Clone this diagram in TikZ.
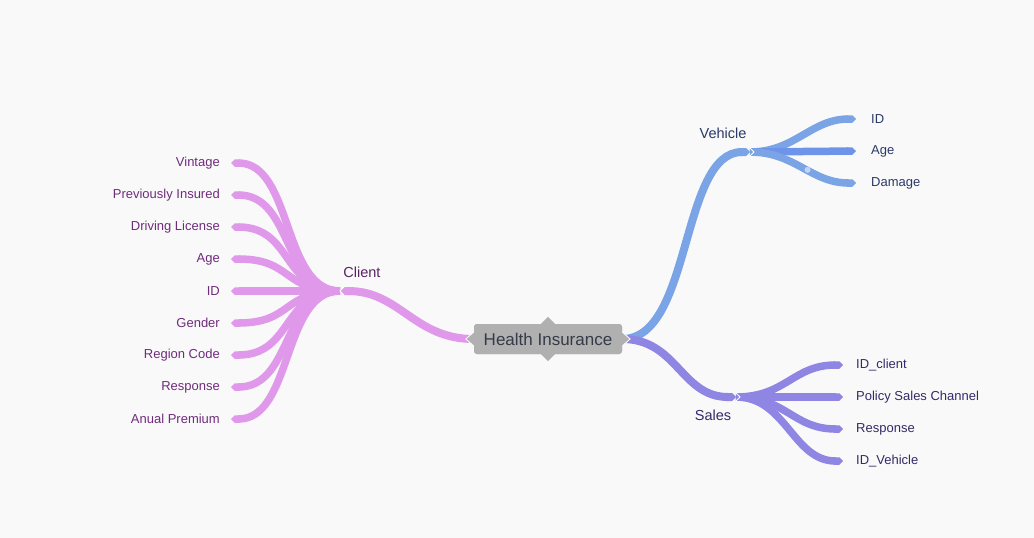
\documentclass[tikz,border=0pt]{standalone}
\usepackage{fontspec}
\setmainfont{Liberation Sans}
\usetikzlibrary{arrows.meta,positioning}
\definecolor{bgGray}{RGB}{249,249,249}
\definecolor{hubGray}{RGB}{176,176,176}
\definecolor{hubText}{RGB}{52,60,72}
\definecolor{clientPink}{RGB}{224,152,234}
\definecolor{clientText}{RGB}{112,44,124}
\definecolor{vehBlue}{RGB}{122,164,230}
\definecolor{vehText}{RGB}{42,58,104}
\definecolor{salesPurple}{RGB}{143,134,228}
\definecolor{salesText}{RGB}{52,42,104}

\begin{document}
\begin{tikzpicture}[x=1pt,y=-1pt,
    hubbox/.style={fill=hubGray, rounded corners=3pt, minimum width=148pt, minimum height=30pt,
      inner sep=0pt, text=hubText, font=\fontsize{17}{19}\selectfont},
    hubtip/.style={fill=hubGray, draw=white, line width=0.8pt},
    branch/.style={line width=8pt, -{Triangle Cap}},
    twig/.style={line width=7.5pt, -{Triangle Cap}},
    notch/.style={draw=white, line width=1pt},
    sublabel/.style={inner sep=0pt, font=\fontsize{14.5}{16}\selectfont},
    leafL/.style={anchor=east, inner sep=0pt, text=clientText, font=\fontsize{13}{15}\selectfont},
    leafR/.style={anchor=west, inner sep=0pt, font=\fontsize{13}{15}\selectfont},
    dotmark/.style={circle, fill=white, fill opacity=0.55, inner sep=0pt, minimum size=6pt}]
  \useasboundingbox[fill=bgGray] (0,0) rectangle (1034,538);

  % centre
  \node[hubbox] (hi) at (548,339) {Health Insurance};
  \coordinate (client) at (340,291);
  \coordinate (veh) at (750,152);
  \coordinate (sales) at (736,397);

  % client side
  \foreach \lab [count=\i] in {Vintage, Previously Insured, Driving License, Age, ID, Gender, Region Code, Response, Anual Premium} {
    \node[leafL] (cl\i) at (220,131+32*\i) {\lab};
    \coordinate (ce\i) at (231,131+32*\i);
    \draw[twig, clientPink] (client) .. controls +(-58,0) and +(62,0) .. (ce\i);
  }
  \draw[branch, clientPink] (hi.west) .. controls +(-60,0) and +(60,0) .. (client);
  \draw[notch] (client) ++(4,-4) -- ++(-4,4) -- ++(4,4);
  \node[sublabel, text=clientText!80!black] (clientlbl) at (362,272) {Client};

  % vehicle side
  \foreach \lab [count=\i] in {ID, Age, Damage} {
    \node[leafR, text=vehText] (vl\i) at (871,87+32*\i) {\lab};
    \coordinate (ve\i) at (856,87+32*\i);
  }
  \draw[twig, vehBlue] (veh) .. controls +(45,0) and +(-45,0) .. (ve1);
  \draw[twig, vehBlue!90!blue] (veh) -- (ve2);
  \draw[twig, vehBlue] (veh) .. controls +(45,0) and +(-45,0) .. (ve3) node[pos=0.55, dotmark] {};
  \draw[branch, vehBlue] (hi.east) .. controls +(70,0) and +(-70,0) .. (veh);
  \draw[notch] (veh) ++(0,-4) -- ++(4,4) -- ++(-4,4);
  \node[sublabel, text=vehText] (vehlbl) at (723,133) {Vehicle};

  % sales side
  \foreach \lab [count=\i] in {ID\_client, Policy Sales Channel, Response, ID\_Vehicle} {
    \node[leafR, text=salesText] (sl\i) at (856,333+32*\i) {\lab};
    \coordinate (se\i) at (843,333+32*\i);
    \draw[twig, salesPurple] (sales) .. controls +(50,0) and +(-50,0) .. (se\i);
  }
  \draw[branch, salesPurple] (hi.east) .. controls +(55,0) and +(-55,0) .. (sales);
  \draw[notch] (sales) ++(0,-4) -- ++(4,4) -- ++(-4,4);
  \node[sublabel, text=salesText] (saleslbl) at (713,415) {Sales};

  % tips of the centre box
  \filldraw[hubtip] (hi.west) ++(0,-7) -- ++(-8,7) -- ++(8,7);
  \filldraw[hubtip] (hi.east) ++(0,-7) -- ++(8,7) -- ++(-8,7);
  \fill[hubGray] (hi.north) ++(-7,0) -- ++(7,-7) -- ++(7,7) -- cycle;
  \fill[hubGray] (hi.south) ++(-7,0) -- ++(7,7) -- ++(7,-7) -- cycle;
  \node[hubbox] at (hi) {Health Insurance};
\end{tikzpicture}
\end{document}
